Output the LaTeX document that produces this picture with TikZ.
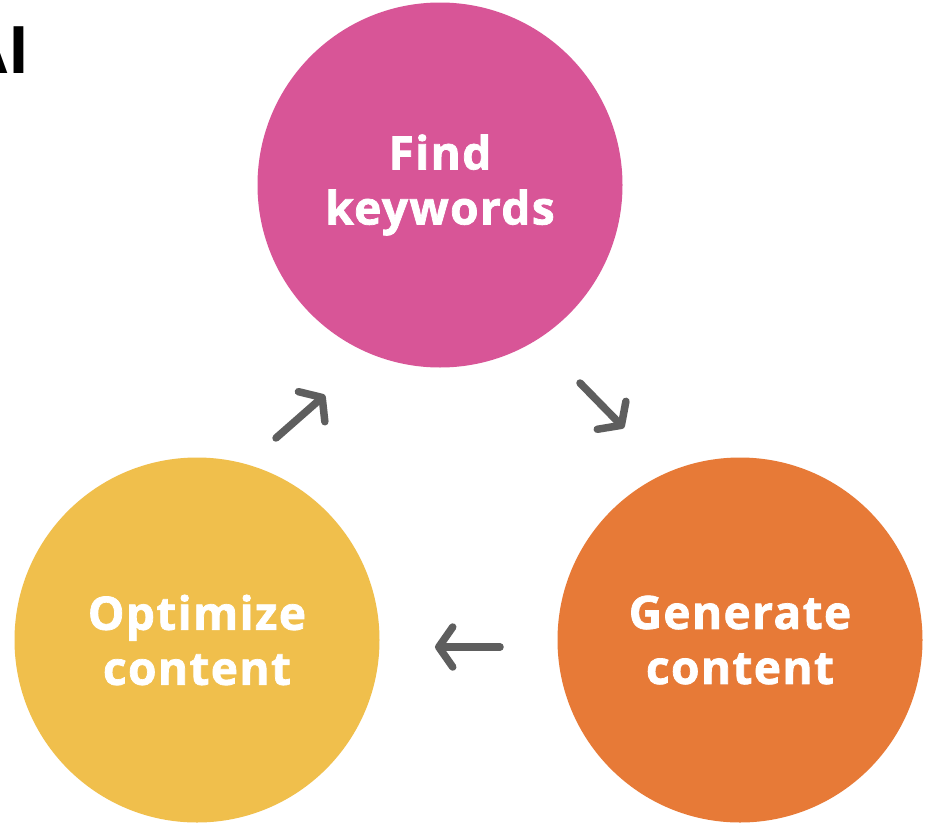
\documentclass[tikz,border=0pt]{standalone}
\usepackage{fontspec}
\setmainfont{Open Sans}[BoldFeatures={FakeBold=1.6,LetterSpace=3}]
\newfontfamily\aifont{Liberation Sans}
\usetikzlibrary{arrows.meta}
\definecolor{pinkc}{HTML}{D85597}
\definecolor{orangec}{HTML}{E77A37}
\definecolor{yellowc}{HTML}{F0BF4C}
\definecolor{arrowc}{HTML}{5E5E5E}
\tikzset{
  stage/.style={circle, minimum size=365pt, inner sep=0pt, text=white,
    align=center, font=\fontsize{46}{55}\selectfont\bfseries},
  cyc/.style={draw=arrowc, line width=7.5pt, line cap=round, line join=round,
    -{Straight Barb[length=14pt,width=40pt,round]}}
}
\begin{document}
\begin{tikzpicture}[x=1pt,y=-1pt]
\useasboundingbox (0,0) rectangle (926,822);
\clip (0,0) rectangle (926,822);
\fill[white] (0,0) rectangle (926,822);
\node[anchor=base east, inner sep=0pt, font=\aifont\bfseries\fontsize{68}{68}\selectfont] (ai) at (29,73) {AI};
\node[stage, fill=pinkc] (find) at (440,185) {Find\\keywords};
\node[stage, fill=orangec] (gen) at (740,640) {Generate\\content};
\node[stage, fill=yellowc] (opt) at (197,640) {Optimize\\content};
\coordinate (a1s) at (276,438); \coordinate (a1e) at (325,395);
\coordinate (a2s) at (580,383); \coordinate (a2e) at (624,428);
\coordinate (a3s) at (500,647); \coordinate (a3e) at (435,647);
\draw[cyc] (a1s) -- (a1e);
\draw[cyc] (a2s) -- (a2e);
\draw[cyc] (a3s) -- (a3e);
\end{tikzpicture}
\end{document}
